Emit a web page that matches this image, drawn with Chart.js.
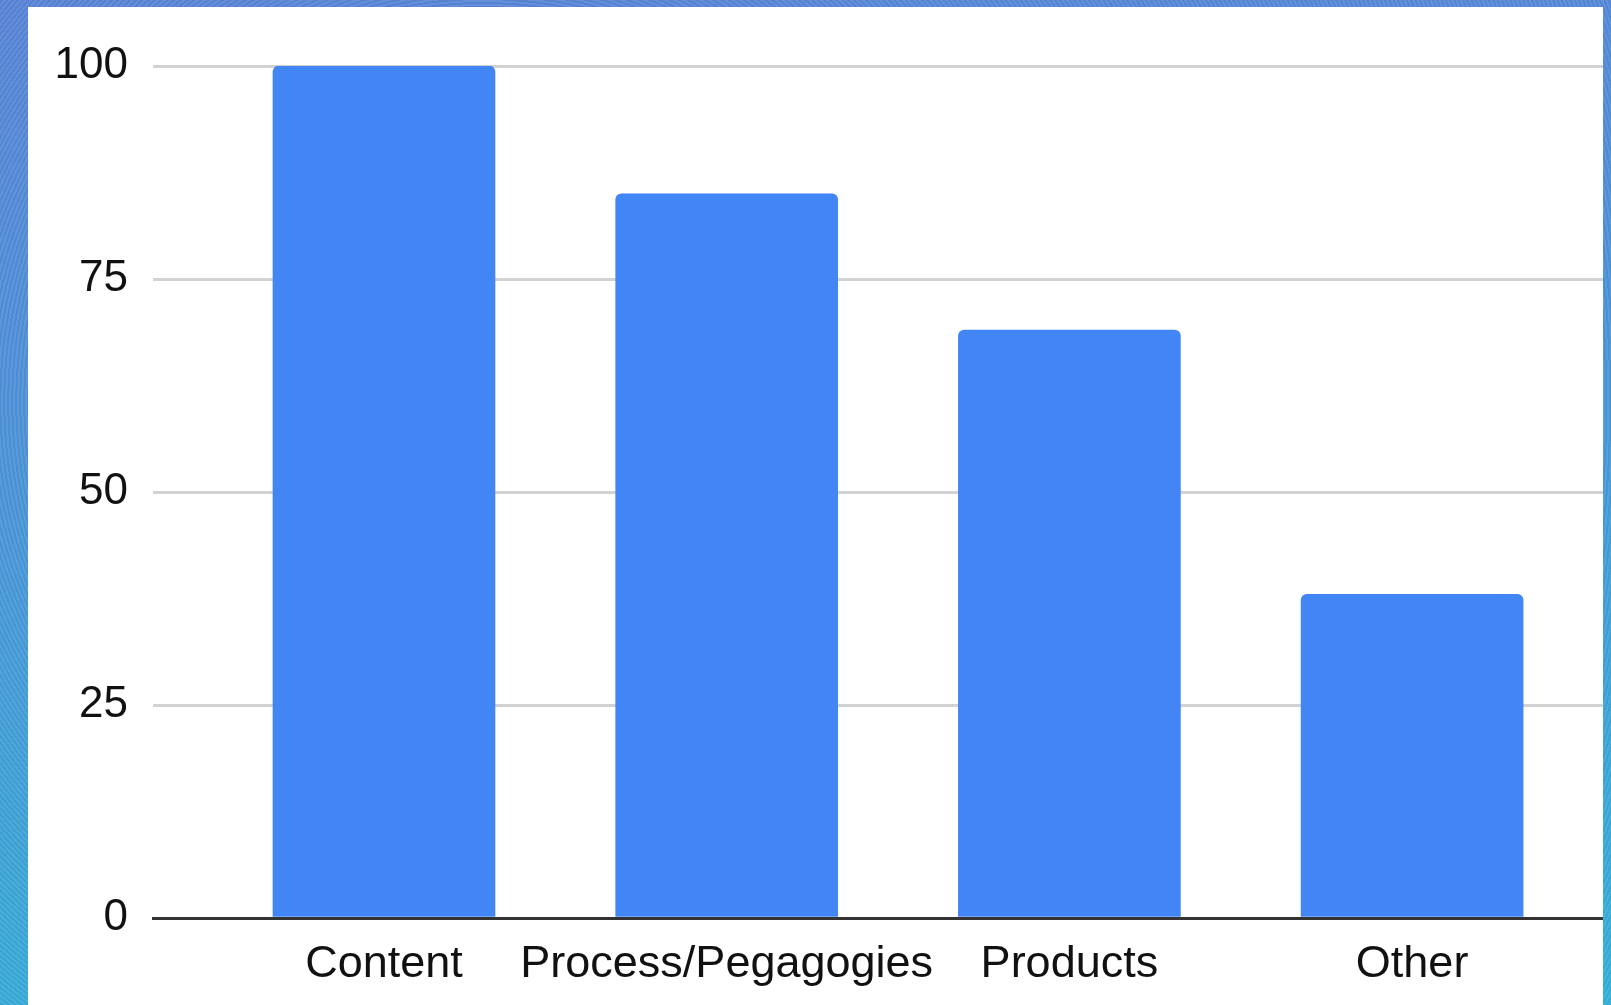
<!DOCTYPE html>
<html>
<head>
<meta charset="utf-8">
<script src="https://cdn.jsdelivr.net/npm/chart.js@4"></script>
<style>
  html, body { margin: 0; padding: 0; }
  body {
    width: 1611px; height: 1005px; overflow: hidden; position: relative;
    background:
      repeating-radial-gradient(circle at 30% 40%, rgba(255,255,255,0.06) 0 2px, rgba(0,0,0,0.04) 2px 4px),
      linear-gradient(175deg, #5a86d8 0%, #4d97da 45%, #34b3d8 100%);
  }
  #panel {
    position: absolute; left: 28px; top: 7px; width: 1575px; height: 998px;
    background: #fff;
  }
  #chart { display: block; }
</style>
</head>
<body>
<div id="panel"><canvas id="chart" width="1575" height="998"></canvas></div>
<script>
// datos del gráfico
const categorias = ['Content', 'Process/Pegagogies', 'Products', 'Other'];
const valores = [100, 85, 69, 38];
const ticksY = [0, 25, 50, 75, 100];

const azul = '#4285f4';

new Chart(document.getElementById('chart'), {
    type: 'bar',
    data: {
        datasets: [{
            data: valores.map((v, i) => ({ x: i, y: v })),
            backgroundColor: azul,
            borderRadius: { topLeft: 6, topRight: 6 },
            borderSkipped: 'bottom',
            barThickness: 222
        }]
    },
    options: {
        responsive: false,
        animation: false,
        layout: { padding: { top: 59, right: 0, left: 0, bottom: 0 } },
        plugins: { legend: { display: false }, tooltip: { enabled: false } },
        scales: {
            x: {
                type: 'linear',
                offset: false,
                min: -0.674,
                max: 3.557,
                grid: { display: false },
                border: { display: true, color: '#333', width: 3 },
                afterBuildTicks: s => { s.ticks = categorias.map((c, i) => ({ value: i })); },
                afterFit: s => { s.height = 87; },
                ticks: {
                    autoSkip: false,
                    maxRotation: 0,
                    padding: 12,
                    color: '#111',
                    font: { family: '"Liberation Sans", Arial, sans-serif', size: 45 },
                    callback: v => categorias[v]
                }
            },
            y: {
                min: 0,
                max: 100,
                afterBuildTicks: s => { s.ticks = ticksY.map(v => ({ value: v })); },
                afterFit: s => { s.width = 125; },
                border: { display: false },
                grid: {
                    drawTicks: false,
                    lineWidth: 3,
                    color: ctx => ctx.tick && ctx.tick.value === 0 ? '#333' : '#d2d2d2'
                },
                ticks: {
                    padding: 25,
                    color: '#111',
                    font: { family: '"Liberation Sans", Arial, sans-serif', size: 44 }
                }
            }
        }
    }
});
</script>
</body>
</html>
